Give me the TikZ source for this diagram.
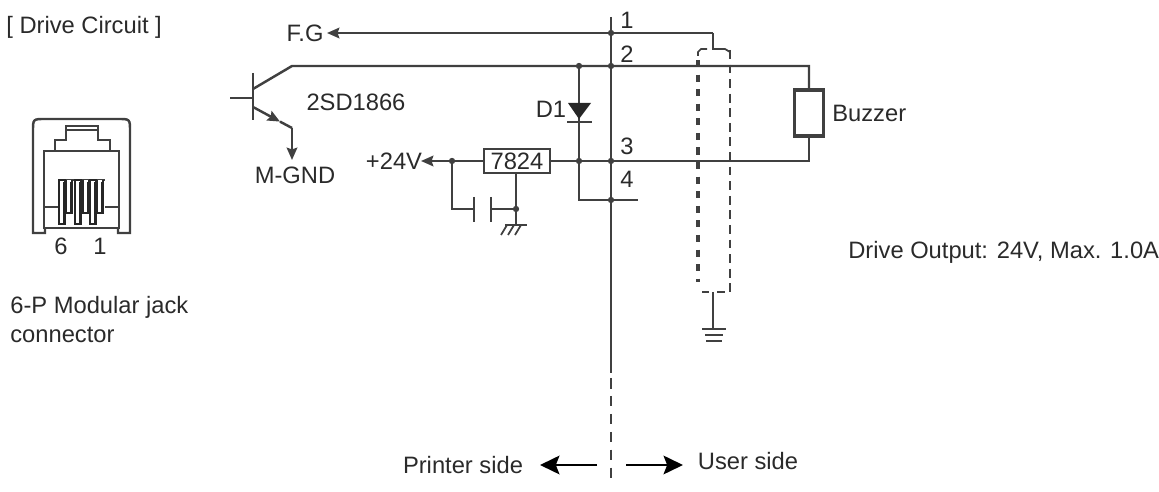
\documentclass[tikz,border=0pt]{standalone}
\usepackage{fontspec}
\setmainfont{Liberation Sans}
\usetikzlibrary{positioning, shapes, arrows.meta, calc, fit}

\definecolor{wirecol}{HTML}{404040}
\definecolor{textcol}{HTML}{2A2A2A}

\begin{document}
\begin{tikzpicture}[
    x=0.02cm, y=-0.02cm,
    wire/.style={draw=wirecol, line width=1.4pt},
    thinwire/.style={draw=wirecol, line width=1pt},
    tip/.style={wire, -{Stealth[length=7pt, width=6pt, inset=1pt]}},
    bigtip/.style={draw=black, line width=1.7pt, -{Stealth[length=11pt, width=10.5pt, inset=2pt]}},
    box/.style={draw=wirecol, line width=1.4pt, rectangle, fill=white, inner sep=0pt},
    lbl/.style={text=textcol, font=\fontsize{13.5}{16.5}\selectfont, inner sep=0pt},
    dot/.style={circle, fill=wirecol, inner sep=0pt, minimum size=3.6pt}
]
\useasboundingbox (0,0) rectangle (1159,492);

% labels
\node[lbl, anchor=west] (title) at (6,27) {[ Drive Circuit ]};
\node[lbl, anchor=west, align=left] (jack) at (10,320) {6-P Modular jack\\connector};
\node[lbl, anchor=west] (output) at (848,252) {Drive Output: 24V, Max. 1.0A};
\node[lbl] (fg) at (305,33) {F.G};
\node[lbl] (trname) at (356,102) {2SD1866};
\node[lbl] (mgnd) at (295,175) {M-GND};
\node[lbl] (vcc) at (394,161) {+24V};
\node[lbl] (dname) at (551,109) {D1};
\node[lbl, anchor=west] (buzname) at (832,113) {Buzzer};
\node[lbl] (pin1) at (627,20) {1};
\node[lbl] (pin2) at (627,54) {2};
\node[lbl] (pin3) at (627,146) {3};
\node[lbl] (pin4) at (627,179) {4};
\node[lbl] (printer) at (463,465) {Printer side};
\node[lbl] (user) at (748,461) {User side};

% parts
\node[box, lbl, minimum width=37.4pt, minimum height=13.6pt] (reg) at (517,161) {7824};
\node[box, minimum width=16.4pt, minimum height=26pt, line width=1.9pt] (buzzer) at (809,113) {};

% points on the wires
\coordinate (bartop) at (611,17);
\coordinate (barend) at (611,373);
\coordinate (barlow) at (611,482);
\coordinate (fgend) at (327,33);
\coordinate (shldtap) at (713,33);
\coordinate (shldin) at (719,49);
\coordinate (colbend) at (292,66);
\coordinate (pin2r) at (809,66);
\coordinate (pin3r) at (809,161);
\coordinate (dtop) at (579,66);
\coordinate (dmid) at (579,161);
\coordinate (dlow) at (579,200);
\coordinate (pin4r) at (638,200);
\coordinate (vccend) at (421,161);
\coordinate (capj) at (452,161);
\coordinate (capl) at (452,209);
\coordinate (capa) at (474,209);
\coordinate (capb) at (491,209);
\coordinate (capg) at (516,209);
\coordinate (gnd) at (516,225);
\coordinate (base) at (230,98);
\coordinate (bodyup) at (253,73);
\coordinate (bodydn) at (253,120);
\coordinate (colin) at (253,89);
\coordinate (emin) at (253,107);
\coordinate (embend) at (292,128);
\coordinate (emmid) at (280,121.6);
\coordinate (emend) at (292,160);

% divider
\draw[wire] (bartop) -- (barend);
\draw[thinwire, dash pattern=on 6pt off 4.2pt] (barend) ++(0,5) -- (barlow);

% wires
\draw[tip] (shldtap) -- (fgend);
\draw[wire] (shldtap) -- ++(0,16) -- (shldin);
\draw[wire] (colin) -- (colbend) -- (pin2r) -- (buzzer.north);
\draw[wire] (buzzer.south) |- (reg.east);
\draw[tip] (reg.west) -- (vccend);
\draw[wire] (dtop) -- (dlow) -- (pin4r);

% transistor
\draw[wire] (base) -- (253,98);
\draw[wire, line width=1.7pt] (bodyup) -- (bodydn);
\draw[tip] (emin) -- (emmid);
\draw[wire] (emmid) -- (embend);
\draw[tip] (embend) -- (emend);

% diode
\fill[black!85] (568,103) -- (591,103) -- (579,119) -- cycle;
\draw[wire] (567,122) -- (592,122);

% capacitor and ground
\draw[wire] (capj) -- (capl) -- (capa);
\draw[wire] (capb) -- (capg);
\draw[wire] (reg.south -| gnd) -- (gnd);
\draw[wire] (capa |- 0,197) -- (capa |- 0,222);
\draw[wire] (capb |- 0,197) -- (capb |- 0,222);
\draw[wire] (505,225) -- (527,225);
\foreach \x in {507,514,521} {
    \draw[thinwire] (\x,225) -- ++(-6,10);
}

% shield
\draw[wire, line width=1.9pt, dash pattern=on 4pt off 4.3pt] (698,60) -- (698,282);
\draw[thinwire, line width=1.2pt, dash pattern=on 5pt off 3.3pt] (730,50) -- (730,292);
\draw[thinwire] (698,56) -- (698,52) -- (701,49) -- (707,49);
\draw[thinwire] (719,49) -- (725,49) -- (730,52);
\draw[thinwire] (702,292) -- (709,292);
\draw[thinwire] (717,292) -- (725,292);

% shield ground
\draw[wire] (713,292) -- (713,329);
\draw[thinwire] (702,329) -- (726,329);
\draw[wire] (705,335) -- (723,335);
\draw[wire] (706,341) -- (722,341);

% junctions
\foreach \p in {capj, capg, dtop, dmid} {
    \node[dot] at (\p) {};
}
\node[dot] at (bartop |- fgend) {};
\node[dot] at (bartop |- dtop) {};
\node[dot] at (bartop |- dmid) {};
\node[dot] at (bartop |- dlow) {};

% side arrows
\draw[bigtip] (597,465) -- (540,465);
\draw[bigtip] (626,465) -- (683,465);

% jack
\draw[wire] (45,228) -- (45,233) -- (33,233) -- (33,131) .. controls (33,119) .. (45,119) -- (118,119) .. controls (130,119) .. (130,131) -- (130,233) -- (118,233) -- (118,228);
\draw[wire] (44,228) -- (44,151) -- (119,151) -- (119,228) -- cycle;
\draw[wire] (55,151) -- (55,140) -- (66,140) -- (66,126) -- (98,126) -- (98,140) -- (110,140) -- (110,151);
\draw[thinwire] (66,130) -- (98,130);
\draw[thinwire] (44,207) -- (58,207);
\draw[thinwire] (105,207) -- (119,207);
\draw[wire] (58,180) -- (105,180);
\foreach \x in {62,78,93} {
    \draw[draw=black!85, line width=1pt, fill=white] (\x-3,180) rectangle (\x+3,224);
    \fill[black!85] (\x+1,182) rectangle (\x+3,224);
}
\foreach \x in {69,86,100} {
    \draw[draw=black!85, line width=0.9pt, fill=white] (\x-3,180) -- (\x-3,213) -- (\x+3,213) -- (\x+3,180);
    \fill[black!85] (\x+1,182) rectangle (\x+3,213);
}
\node[lbl] (jack6) at (61,246) {6};
\node[lbl] (jack1) at (100,246) {1};
\end{tikzpicture}
\end{document}
